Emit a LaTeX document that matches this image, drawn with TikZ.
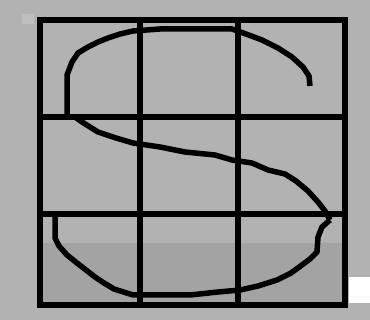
\documentclass[tikz,border=0pt]{standalone}
\begin{document}
\begin{tikzpicture}[x=1pt,y=-1pt,
  gridline/.style={line width=5.5pt,line cap=rect},
  stroke/.style={line width=5.5pt,line join=round,line cap=butt}]
\useasboundingbox (0,0) rectangle (370,320);
% dithered background
\fill[black!30] (0,0) rectangle (370,320);
\fill[black!36] (40,243) rectangle (347,305);
\fill[white] (349,277) rectangle (370,303);
\fill[white!75!black] (22,14) rectangle (34,24);
% grid
\draw[gridline] (40,20) rectangle (345,305);
\draw[gridline] (140,20) -- (140,305);
\draw[gridline] (238,20) -- (238,305);
\draw[gridline] (40,117) -- (345,117);
\draw[gridline] (40,214) -- (345,214);
% upper arc of the S
\draw[stroke] (67,116) -- (67,75) -- (72,62) -- (78,53) -- (88,47) -- (98,42)
  -- (108,38) -- (120,34) -- (133,31) -- (160,29) -- (232,29) -- (246,34)
  -- (262,40) -- (278,48) -- (292,57) -- (303,67) -- (309,76) -- (310,86);
% middle diagonal of the S
\draw[stroke] (75,117) -- (82,122) -- (98,132) -- (116,138) -- (133,143)
  -- (160,147) -- (185,152) -- (215,155) -- (232,160) -- (252,163)
  -- (268,170) -- (285,174) -- (296,181) -- (308,191) -- (318,202)
  -- (325,211) -- (330,220);
% lower arc of the S
\draw[stroke] (330,220) -- (322,227) -- (318,237) -- (317,252) -- (310,259)
  -- (302,265) -- (291,273) -- (277,280) -- (258,286) -- (240,290)
  -- (218,292) -- (190,295) -- (133,295) -- (114,289) -- (104,283)
  -- (95,277) -- (86,270) -- (77,263) -- (67,255) -- (59,246) -- (55,238)
  -- (55,215);
\end{tikzpicture}
\end{document}
